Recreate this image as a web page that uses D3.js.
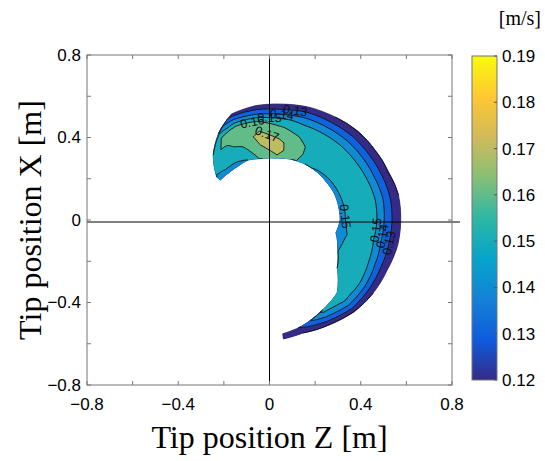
<!DOCTYPE html>
<html>
<head>
<meta charset="utf-8">
<script src="https://cdn.jsdelivr.net/npm/d3@7"></script>
<style>
body { margin: 0; background: #fff; }
</style>
</head>
<body>
<svg id="chart" width="545" height="461"></svg>
<script>
////////////////////////////////////////////////////////////////////////////////
// Data.
// Grid rows are polar angles (deg, from +Z toward +X), columns run from the
// inner edge of the crescent to its outer edge.
var angles = [-84, -75, -62, -50, -38, -25, -12, 0, 12, 24, 36, 48, 60, 72, 84, 96, 108, 118, 128, 138];
var innerR = [0.555, 0.535, 0.495, 0.462, 0.377, 0.33, 0.298, 0.31, 0.31, 0.312, 0.31, 0.312, 0.313, 0.31, 0.302, 0.30, 0.306, 0.295, 0.29, 0.29];
var outerR = [0.58, 0.567, 0.573, 0.58, 0.576, 0.57, 0.575, 0.575, 0.578, 0.572, 0.573, 0.58, 0.576, 0.574, 0.565, 0.558, 0.54, 0.475, 0.40, 0.31];

// tip speed [m/s]
var speed = [
	[0.124, 0.124, 0.123, 0.123, 0.122, 0.122, 0.121, 0.121],
	[0.131, 0.130, 0.128, 0.127, 0.125, 0.124, 0.122, 0.121],
	[0.153, 0.150, 0.146, 0.141, 0.136, 0.131, 0.126, 0.119],
	[0.157, 0.156, 0.154, 0.150, 0.144, 0.137, 0.129, 0.119],
	[0.156, 0.157, 0.157, 0.156, 0.153, 0.144, 0.131, 0.121],
	[0.149, 0.154, 0.156, 0.156, 0.154, 0.143, 0.131, 0.121],
	[0.146, 0.149, 0.153, 0.155, 0.153, 0.141, 0.130, 0.121],
	[0.147, 0.152, 0.154, 0.155, 0.153, 0.141, 0.130, 0.121],
	[0.147, 0.152, 0.154, 0.155, 0.153, 0.142, 0.130, 0.121],
	[0.148, 0.152, 0.154, 0.155, 0.153, 0.142, 0.131, 0.119],
	[0.148, 0.152, 0.155, 0.155, 0.153, 0.143, 0.131, 0.121],
	[0.149, 0.153, 0.155, 0.155, 0.153, 0.143, 0.131, 0.119],
	[0.151, 0.156, 0.157, 0.156, 0.154, 0.145, 0.132, 0.121],
	[0.165, 0.165, 0.163, 0.160, 0.155, 0.147, 0.134, 0.121],
	[0.168, 0.173, 0.173, 0.167, 0.161, 0.152, 0.134, 0.121],
	[0.163, 0.167, 0.171, 0.173, 0.168, 0.159, 0.137, 0.122],
	[0.150, 0.156, 0.160, 0.164, 0.166, 0.163, 0.143, 0.124],
	[0.146, 0.151, 0.154, 0.157, 0.159, 0.162, 0.160, 0.148],
	[0.145, 0.149, 0.152, 0.155, 0.157, 0.157, 0.155, 0.150],
	[0.143, 0.144, 0.145, 0.146, 0.147, 0.148, 0.149, 0.150]
];

var levels = [0.12, 0.13, 0.14, 0.15, 0.16, 0.17, 0.18];
var majorTicks = [-0.8, -0.4, 0, 0.4, 0.8];
var minorTicks = [-0.6, -0.2, 0.2, 0.6];
var cbTicks = [0.12, 0.13, 0.14, 0.15, 0.16, 0.17, 0.18, 0.19];
// contour labels: level, polar angle (deg), radius
var labelLevels = [0.15, 0.15, 0.14, 0.13, 0.15, 0.14, 0.13, 0.16, 0.17];
var labelAngles = [2, -6, -10, -13, 89, 83, 77, 99, 92];
var labelRadii = [0.33, 0.47, 0.50, 0.53, 0.49, 0.53, 0.55, 0.46, 0.40];

var parula = ['#352a87', '#0f5cdd', '#1481d6', '#06a4ca', '#2eb7a4',
              '#87bf77', '#d1bb59', '#fec832', '#f9fb0e'];

////////////////////////////////////////////////////////////////////////////////
var svg = d3.select('#chart');
var box = {left: 87, right: 452, top: 55, bottom: 385};

var x = d3.scaleLinear().domain([-0.8, 0.8]).range([box.left, box.right]);
var y = d3.scaleLinear().domain([-0.8, 0.8]).range([box.bottom, box.top]);

var cmap = d3.piecewise(d3.interpolateRgb, parula);
var cScale = d3.scaleLinear().domain([0.12, 0.19]).range([0, 1]).clamp(true);

// grid -> data coordinates
var nr = speed[0].length, na = angles.length;
var values = [];
speed.forEach(function(row){ row.forEach(function(v){ values.push(v); }); });
var rowPos = d3.range(na).map(function(i){ return i + 0.5; });
var angleAt = d3.scaleLinear().domain(rowPos).range(angles).clamp(true);
var innerAt = d3.scaleLinear().domain(rowPos).range(innerR).clamp(true);
var outerAt = d3.scaleLinear().domain(rowPos).range(outerR).clamp(true);
var fracAt = d3.scaleLinear().domain([0.5, nr - 0.5]).range([0, 1]).clamp(true);

function toData(p){
	var a = angleAt(p[1]) * Math.PI / 180;
	var r0 = innerAt(p[1]), r1 = outerAt(p[1]);
	var r = r0 + fracAt(p[0]) * (r1 - r0);
	return [r * Math.cos(a), r * Math.sin(a)];
}
function densify(pts){
	var out = [];
	for (var i = 0; i < pts.length - 1; i++){
		for (var k = 0; k < 4; k++){
			var t = k / 4;
			out.push([pts[i][0] + t * (pts[i+1][0] - pts[i][0]),
			          pts[i][1] + t * (pts[i+1][1] - pts[i][1])]);
		}
	}
	out.push(pts[pts.length - 1]);
	return out;
}
function toScreen(pts){
	return densify(pts).map(function(p){
		var d = toData(p);
		return [x(d[0]), y(d[1])];
	});
}
var line = d3.line();

var contours = d3.contours().size([nr, na]);

////////////////////////////////////////////////////////////////////////////////
// Filled contours
var fillLevels = [0.10].concat(levels);
var g = svg.append('g');
fillLevels.forEach(function(t){
	var mp = contours.contour(values, t);
	var d = '';
	mp.coordinates.forEach(function(poly){
		poly.forEach(function(ring){
			d += line(toScreen(ring)) + 'Z';
		});
	});
	var col = t < 0.12 ? '#15132b' : cmap(cScale(t));
	g.append('path')
		.attr('d', d)
		.attr('fill', col)
		.attr('fill-rule', 'evenodd')
		.attr('stroke', col)
		.attr('stroke-width', 0.4);
});

// Contour lines (skip pieces lying on the grid border)
function onEdge(p, q){
	return (p[0] === 0 && q[0] === 0) || (p[0] === nr && q[0] === nr) ||
	       (p[1] === 0 && q[1] === 0) || (p[1] === na && q[1] === na);
}
var isoRuns = {};
levels.forEach(function(t){
	var runs = [];
	var mp = contours.contour(values, t);
	mp.coordinates.forEach(function(poly){
		poly.forEach(function(ring){
			var cur = [];
			for (var i = 0; i < ring.length - 1; i++){
				if (onEdge(ring[i], ring[i+1])){
					if (cur.length > 1) runs.push(cur);
					cur = [];
				} else {
					if (cur.length === 0) cur.push(ring[i]);
					cur.push(ring[i+1]);
				}
			}
			if (cur.length > 1) runs.push(cur);
		});
	});
	isoRuns[t] = runs.map(toScreen);
	isoRuns[t].forEach(function(r){
		g.append('path')
			.attr('d', line(r))
			.attr('fill', 'none')
			.attr('stroke', '#111')
			.attr('stroke-width', 0.9)
			.attr('stroke-linejoin', 'round');
	});
});

// Contour labels
labelLevels.forEach(function(lv, i){
	var a = labelAngles[i] * Math.PI / 180;
	var tx = x(labelRadii[i] * Math.cos(a)), ty = y(labelRadii[i] * Math.sin(a));
	var best = null, bestD = 1e9;
	(isoRuns[lv] || []).forEach(function(r){
		r.forEach(function(p, j){
			var dd = (p[0]-tx)*(p[0]-tx) + (p[1]-ty)*(p[1]-ty);
			if (dd < bestD){ bestD = dd; best = {run: r, j: j}; }
		});
	});
	if (!best || bestD > 400) return;
	var r = best.run, j = best.j;
	var p0 = r[Math.max(0, j-3)], p1 = r[Math.min(r.length-1, j+3)];
	var rot = Math.atan2(p1[1]-p0[1], p1[0]-p0[0]) * 180 / Math.PI;
	if (rot > 90) rot -= 180;
	if (rot < -90) rot += 180;
	g.append('text')
		.attr('transform', 'translate(' + r[j][0] + ',' + r[j][1] + ') rotate(' + rot + ')')
		.attr('text-anchor', 'middle')
		.attr('dy', '0.35em')
		.style('font-family', 'Liberation Sans, Arial, sans-serif')
		.style('font-size', '12.5px')
		.style('fill', '#111')
		.text(lv.toFixed(2));
});

////////////////////////////////////////////////////////////////////////////////
// Axes box, zero lines, ticks
svg.append('line')
	.attr('x1', box.left).attr('x2', box.right + 8)
	.attr('y1', y(0) + 2).attr('y2', y(0) + 2)
	.attr('stroke', '#000').attr('stroke-width', 1);
svg.append('line')
	.attr('x1', x(0)).attr('x2', x(0))
	.attr('y1', box.top).attr('y2', box.bottom)
	.attr('stroke', '#000').attr('stroke-width', 1);

svg.append('rect')
	.attr('x', box.left).attr('y', box.top)
	.attr('width', box.right - box.left).attr('height', box.bottom - box.top)
	.attr('fill', 'none').attr('stroke', '#777').attr('stroke-width', 1);

var allTicks = majorTicks.concat(minorTicks);
var tk = svg.append('g').attr('stroke', '#777').attr('stroke-width', 1);
allTicks.forEach(function(v){
	tk.append('line').attr('x1', x(v)).attr('x2', x(v)).attr('y1', box.bottom).attr('y2', box.bottom - 4);
	tk.append('line').attr('x1', x(v)).attr('x2', x(v)).attr('y1', box.top).attr('y2', box.top + 4);
	tk.append('line').attr('y1', y(v)).attr('y2', y(v)).attr('x1', box.left).attr('x2', box.left + 4);
	tk.append('line').attr('y1', y(v)).attr('y2', y(v)).attr('x1', box.right).attr('x2', box.right - 4);
});

var tickFont = 'Liberation Sans, Arial, sans-serif';
function fmt(v){ return v === 0 ? '0' : d3.format('.1f')(v); }
svg.append('g').selectAll('text').data(majorTicks).enter().append('text')
	.attr('x', function(d){ return x(d); })
	.attr('y', box.bottom + 25)
	.attr('text-anchor', 'middle')
	.style('font-family', tickFont).style('font-size', '17px')
	.text(fmt);
svg.append('g').selectAll('text').data(majorTicks).enter().append('text')
	.attr('x', box.left - 6)
	.attr('y', function(d){ return y(d); })
	.attr('dy', '0.35em')
	.attr('text-anchor', 'end')
	.style('font-family', tickFont).style('font-size', '17px')
	.text(fmt);

// Axis titles
svg.append('text')
	.attr('x', (box.left + box.right) / 2).attr('y', 448)
	.attr('text-anchor', 'middle')
	.style('font-family', 'Liberation Serif, Times New Roman, serif')
	.style('font-size', '32px')
	.text('Tip position Z [m]');
svg.append('text')
	.attr('transform', 'translate(41,' + ((box.top + box.bottom) / 2) + ') rotate(-90)')
	.attr('text-anchor', 'middle')
	.style('font-family', 'Liberation Serif, Times New Roman, serif')
	.style('font-size', '32px')
	.text('Tip position X [m]');

////////////////////////////////////////////////////////////////////////////////
// Colour bar
var cb = {left: 472, right: 497, top: 56, bottom: 380};
var cy = d3.scaleLinear().domain([0.12, 0.19]).range([cb.bottom, cb.top]);
var grad = svg.append('defs').append('linearGradient')
	.attr('id', 'parula').attr('x1', 0).attr('y1', 1).attr('x2', 0).attr('y2', 0);
parula.forEach(function(c, i){
	grad.append('stop').attr('offset', i / (parula.length - 1)).attr('stop-color', c);
});
svg.append('rect')
	.attr('x', cb.left).attr('y', cb.top)
	.attr('width', cb.right - cb.left).attr('height', cb.bottom - cb.top)
	.attr('fill', 'url(#parula)')
	.attr('stroke', '#777').attr('stroke-width', 1);
svg.append('g').selectAll('line').data(cbTicks).enter().append('line')
	.attr('x1', cb.right).attr('x2', cb.right - 3)
	.attr('y1', function(d){ return cy(d); }).attr('y2', function(d){ return cy(d); })
	.attr('stroke', '#555');
svg.append('g').selectAll('text').data(cbTicks).enter().append('text')
	.attr('x', cb.right + 5)
	.attr('y', function(d){ return cy(d); })
	.attr('dy', '0.35em')
	.style('font-family', tickFont).style('font-size', '17px')
	.text(function(d){ return d.toFixed(2); });
svg.append('text')
	.attr('x', 541).attr('y', 25)
	.attr('text-anchor', 'end')
	.style('font-family', 'Liberation Serif, Times New Roman, serif')
	.style('font-size', '20px')
	.text('[m/s]');
</script>
</body>
</html>
